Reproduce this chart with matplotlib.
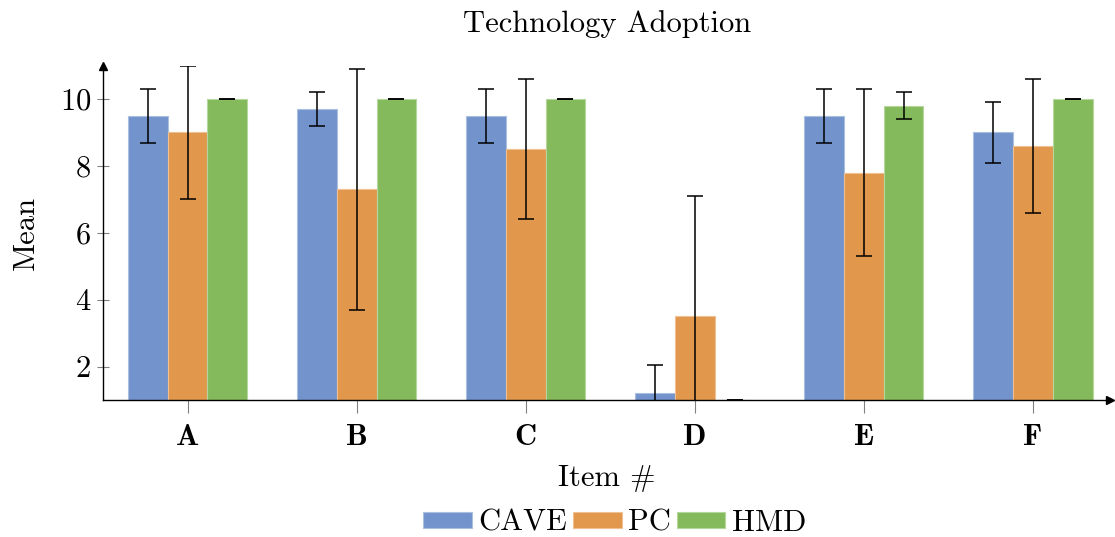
import numpy as np
import matplotlib.pyplot as plt

plt.rcParams["font.family"] = "cmr10"
plt.rcParams["mathtext.fontset"] = "cm"
plt.rcParams["axes.formatter.use_mathtext"] = True

items = ["A", "B", "C", "D", "E", "F"]
cave = [9.5, 9.7, 9.5, 1.2, 9.5, 9.0]
cave_err = [0.8, 0.5, 0.8, 0.85, 0.8, 0.9]
pc = [9.0, 7.3, 8.5, 3.5, 7.8, 8.6]
pc_err = [2.0, 3.6, 2.1, 3.6, 2.5, 2.0]
hmd = [10.0, 10.0, 10.0, 1.0, 9.8, 10.0]
hmd_err = [0.0, 0.0, 0.0, 0.0, 0.4, 0.0]

colors = ["#7293cb", "#e1974c", "#84ba5b"]
edges = ["#a9bfe0", "#efc094", "#b5d69c"]
fs = 22

fig = plt.figure(figsize=(11.15, 5.37), dpi=100)
ax = fig.add_axes([0.0924, 0.2551, 0.9035, 0.6227])

x = np.arange(len(items))
w = 0.236
series = [("CAVE", cave, cave_err), ("PC", pc, pc_err), ("HMD", hmd, hmd_err)]
for i, (name, vals, errs) in enumerate(series):
    ax.bar(x + (i - 1) * w, vals, w, color=colors[i], edgecolor=edges[i],
           linewidth=0.8, label=name, zorder=2)
    ax.errorbar(x + (i - 1) * w, vals, yerr=errs, fmt="none", ecolor="black",
                elinewidth=1.1, capsize=5.6, capthick=1.1, zorder=3)

ax.set_xlim(-0.5, 5.46)
ax.set_ylim(1, 11)
ax.set_yticks([2, 4, 6, 8, 10])
ax.set_xticks(x)
ax.set_xticklabels(items, fontname="cmb10", fontsize=fs)
ax.tick_params(axis="y", direction="inout", length=9, width=0.8, color="#808080",
               labelsize=fs, pad=4)
ax.tick_params(axis="x", direction="out", length=9, width=0.8, color="#808080",
               labelsize=fs, pad=8)

for s in ["top", "right"]:
    ax.spines[s].set_visible(False)
for s in ["left", "bottom"]:
    ax.spines[s].set_linewidth(1.0)
    ax.spines[s].set_zorder(4)

# arrow heads on the axis lines
ax.plot(1, 0, marker=">", color="black", markersize=6, transform=ax.transAxes,
        clip_on=False, zorder=5)
ax.plot(0, 1, marker="^", color="black", markersize=6, transform=ax.transAxes,
        clip_on=False, zorder=5)

ax.set_title("Technology Adoption", fontsize=fs, pad=24)
ax.set_ylabel("Mean", fontsize=fs, labelpad=14)
ax.set_xlabel("Item #", fontsize=fs, labelpad=10)

fig.legend(loc="center", bbox_to_anchor=(0.551, 0.026), ncol=3, frameon=False,
           fontsize=fs, handlelength=1.6, handleheight=0.46, handletextpad=0.2,
           columnspacing=0.2, borderpad=0)

fig.savefig("out.png", dpi=100)
